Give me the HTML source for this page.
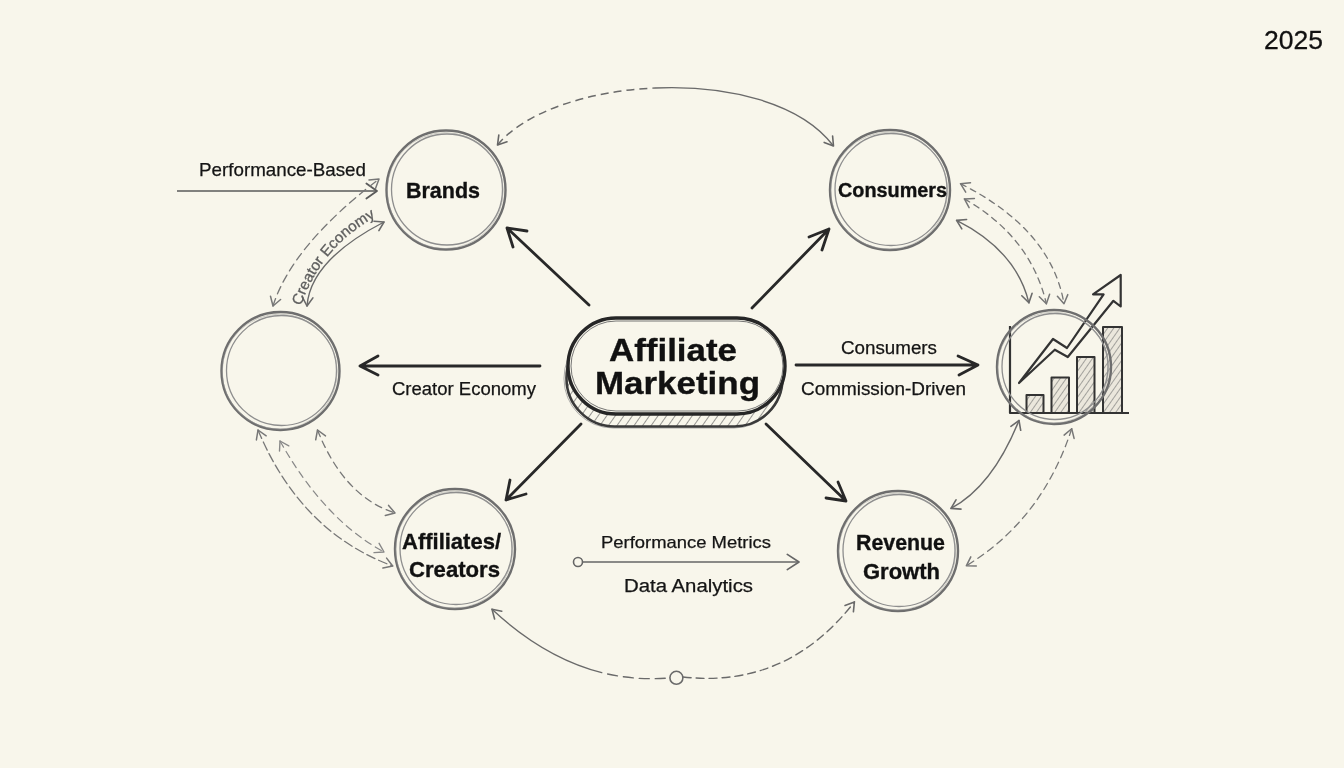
<!DOCTYPE html>
<html><head><meta charset="utf-8">
<style>
html,body{margin:0;padding:0;width:1344px;height:768px;overflow:hidden;background:#f8f6eb;}
svg{display:block;will-change:transform;}
text{font-family:"Liberation Sans",sans-serif;}
</style></head>
<body>
<svg width="1344" height="768" viewBox="0 0 1344 768">
<defs>
<pattern id="hatch" patternUnits="userSpaceOnUse" width="7" height="7" patternTransform="rotate(35)">
<rect width="7" height="7" fill="#f8f6eb"/>
<line x1="0" y1="0" x2="0" y2="7" stroke="#555" stroke-width="1.2"/>
</pattern>
<pattern id="hatch2" patternUnits="userSpaceOnUse" width="5" height="5" patternTransform="rotate(35)">
<rect width="5" height="5" fill="#ebe7dc"/>
<line x1="0" y1="0" x2="0" y2="5" stroke="#666" stroke-width="1.1"/>
</pattern>
</defs>
<rect width="1344" height="768" fill="#f8f6eb"/>
<text x="1264" y="49" font-size="26" fill="#111" stroke="#111" stroke-width="0.3" textLength="59" lengthAdjust="spacingAndGlyphs">2025</text>
<circle cx="446" cy="190" r="59.5" stroke="#6e6e6e" stroke-width="2.4" fill="none"/><circle cx="447" cy="189.5" r="55.5" stroke="#8e8e8e" stroke-width="1.3" fill="none"/><circle cx="445.2" cy="190.6" r="58.0" stroke="#9a9a9a" stroke-width="0.8" fill="none" opacity="0.6"/><circle cx="890" cy="190" r="60" stroke="#6e6e6e" stroke-width="2.4" fill="none"/><circle cx="891" cy="189.5" r="56" stroke="#8e8e8e" stroke-width="1.3" fill="none"/><circle cx="889.2" cy="190.6" r="58.5" stroke="#9a9a9a" stroke-width="0.8" fill="none" opacity="0.6"/><circle cx="280.5" cy="371" r="59" stroke="#6e6e6e" stroke-width="2.4" fill="none"/><circle cx="281.5" cy="370.5" r="55" stroke="#8e8e8e" stroke-width="1.3" fill="none"/><circle cx="279.7" cy="371.6" r="57.5" stroke="#9a9a9a" stroke-width="0.8" fill="none" opacity="0.6"/><circle cx="455" cy="549" r="60" stroke="#6e6e6e" stroke-width="2.4" fill="none"/><circle cx="456" cy="548.5" r="56" stroke="#8e8e8e" stroke-width="1.3" fill="none"/><circle cx="454.2" cy="549.6" r="58.5" stroke="#9a9a9a" stroke-width="0.8" fill="none" opacity="0.6"/><circle cx="898" cy="551" r="60" stroke="#6e6e6e" stroke-width="2.4" fill="none"/><circle cx="899" cy="550.5" r="56" stroke="#8e8e8e" stroke-width="1.3" fill="none"/><circle cx="897.2" cy="551.6" r="58.5" stroke="#9a9a9a" stroke-width="0.8" fill="none" opacity="0.6"/>
<path d="M497.5 145 C525.1 111.4 589.0 90.9 655.0 88.0" stroke="#6a6a6a" stroke-width="1.5" fill="none" stroke-dasharray="8 5"/>
<path d="M655.0 88.0 C726.5 84.9 800.5 102.3 833.5 146" stroke="#6a6a6a" stroke-width="1.4" fill="none"/>
<path d="M507.0 141.8 L497.5 145.0 L498.8 135.1" stroke="#666" stroke-width="1.6" fill="none" stroke-linecap="round" stroke-linejoin="round"/>
<path d="M832.6 136.0 L833.5 146.0 L824.2 142.4" stroke="#666" stroke-width="1.6" fill="none" stroke-linecap="round" stroke-linejoin="round"/>
<path d="M177 191 L376 191" stroke="#5a5a5a" stroke-width="1.7" fill="none"/>
<path d="M366.4 183.5 L377.0 191.0 L366.4 198.5" stroke="#5a5a5a" stroke-width="1.8" fill="none" stroke-linecap="round" stroke-linejoin="round"/>
<path d="M273.0 306.0 Q292.0 245.5 379.0 179.0" stroke="#777" stroke-width="1.3" fill="none" stroke-dasharray="8 5" stroke-linecap="round"/><path d="M280.6 299.5 L273.0 306.0 L270.5 296.3" stroke="#777" stroke-width="1.5" fill="none" stroke-linecap="round" stroke-linejoin="round"/><path d="M369.0 179.9 L379.0 179.0 L375.5 188.4" stroke="#777" stroke-width="1.5" fill="none" stroke-linecap="round" stroke-linejoin="round"/>
<path d="M307.0 306.0 Q310.5 260.0 384.0 222.0" stroke="#6a6a6a" stroke-width="1.4" fill="none" stroke-linecap="round"/><path d="M312.9 297.9 L307.0 306.0 L302.4 297.1" stroke="#6a6a6a" stroke-width="1.5999999999999999" fill="none" stroke-linecap="round" stroke-linejoin="round"/><path d="M374.0 221.2 L384.0 222.0 L378.9 230.6" stroke="#6a6a6a" stroke-width="1.5999999999999999" fill="none" stroke-linecap="round" stroke-linejoin="round"/>
<path id="cearc" d="M301 306 Q323 240 391 209" fill="none" stroke="none"/>
<text font-size="15" fill="#5e5e5e" stroke="#5e5e5e" stroke-width="0.3"><textPath href="#cearc" textLength="119" lengthAdjust="spacingAndGlyphs">Creator Economy</textPath></text>
<path d="M956.6 220.4 Q1016.2 250.4 1028.9 302.8" stroke="#6a6a6a" stroke-width="1.4" fill="none" stroke-linecap="round"/><path d="M961.8 228.9 L956.6 220.4 L966.6 219.5" stroke="#6a6a6a" stroke-width="1.5999999999999999" fill="none" stroke-linecap="round" stroke-linejoin="round"/><path d="M1032.1 293.3 L1028.9 302.8 L1021.8 295.8" stroke="#6a6a6a" stroke-width="1.5999999999999999" fill="none" stroke-linecap="round" stroke-linejoin="round"/>
<path d="M964.4 198.9 Q1030.6 236.6 1046.4 303.8" stroke="#777" stroke-width="1.3" fill="none" stroke-dasharray="6 5" stroke-linecap="round"/><path d="M969.1 207.7 L964.4 198.9 L974.4 198.5" stroke="#777" stroke-width="1.5" fill="none" stroke-linecap="round" stroke-linejoin="round"/><path d="M1049.6 294.3 L1046.4 303.8 L1039.3 296.8" stroke="#777" stroke-width="1.5" fill="none" stroke-linecap="round" stroke-linejoin="round"/>
<path d="M960.5 183.7 Q1051.3 229.1 1064.0 303.8" stroke="#777" stroke-width="1.3" fill="none" stroke-dasharray="6 5" stroke-linecap="round"/><path d="M965.7 192.2 L960.5 183.7 L970.5 182.7" stroke="#777" stroke-width="1.5" fill="none" stroke-linecap="round" stroke-linejoin="round"/><path d="M1067.8 294.6 L1064.0 303.8 L1057.4 296.3" stroke="#777" stroke-width="1.5" fill="none" stroke-linecap="round" stroke-linejoin="round"/>
<path d="M258.0 430.0 Q300.6 532.0 392.7 566.0" stroke="#777" stroke-width="1.3" fill="none" stroke-dasharray="9 4" stroke-linecap="round"/><path d="M256.4 439.9 L258.0 430.0 L266.2 435.8" stroke="#777" stroke-width="1.5" fill="none" stroke-linecap="round" stroke-linejoin="round"/><path d="M386.6 558.1 L392.7 566.0 L382.9 568.0" stroke="#777" stroke-width="1.5" fill="none" stroke-linecap="round" stroke-linejoin="round"/>
<path d="M280.0 441.0 Q324.0 519.5 384.0 552.0" stroke="#888" stroke-width="1.2" fill="none" stroke-dasharray="7 5" stroke-linecap="round"/><path d="M279.5 451.0 L280.0 441.0 L288.8 445.8" stroke="#888" stroke-width="1.4" fill="none" stroke-linecap="round" stroke-linejoin="round"/><path d="M379.1 543.3 L384.0 552.0 L374.0 552.6" stroke="#888" stroke-width="1.4" fill="none" stroke-linecap="round" stroke-linejoin="round"/>
<path d="M317.5 430.0 Q343.8 496.5 395.0 513.0" stroke="#777" stroke-width="1.3" fill="none" stroke-dasharray="7 5" stroke-linecap="round"/><path d="M315.7 439.8 L317.5 430.0 L325.5 435.9" stroke="#777" stroke-width="1.5" fill="none" stroke-linecap="round" stroke-linejoin="round"/><path d="M388.6 505.4 L395.0 513.0 L385.3 515.4" stroke="#777" stroke-width="1.5" fill="none" stroke-linecap="round" stroke-linejoin="round"/>
<path d="M1019.0 420.5 Q992.2 486.8 951.0 508.4" stroke="#6a6a6a" stroke-width="1.4" fill="none" stroke-linecap="round"/><path d="M1010.9 426.4 L1019.0 420.5 L1020.7 430.3" stroke="#6a6a6a" stroke-width="1.5999999999999999" fill="none" stroke-linecap="round" stroke-linejoin="round"/><path d="M961.0 509.1 L951.0 508.4 L956.0 499.8" stroke="#6a6a6a" stroke-width="1.5999999999999999" fill="none" stroke-linecap="round" stroke-linejoin="round"/>
<path d="M1071.7 428.7 Q1042.4 519.5 966.3 565.8" stroke="#777" stroke-width="1.3" fill="none" stroke-dasharray="7 5" stroke-linecap="round"/><path d="M1064.1 435.1 L1071.7 428.7 L1074.1 438.4" stroke="#777" stroke-width="1.5" fill="none" stroke-linecap="round" stroke-linejoin="round"/><path d="M976.3 565.9 L966.3 565.8 L970.8 556.9" stroke="#777" stroke-width="1.5" fill="none" stroke-linecap="round" stroke-linejoin="round"/>
<path d="M492.0 609.3 Q575.0 686.5 670.0 677.8" stroke="#6a6a6a" stroke-width="1.4" fill="none" stroke-dasharray="128 6 10 6 10 6 10 6 10 6 10" stroke-linecap="round"/><path d="M494.6 619.0 L492.0 609.3 L501.8 611.2" stroke="#6a6a6a" stroke-width="1.5999999999999999" fill="none" stroke-linecap="round" stroke-linejoin="round"/>
<path d="M683.0 677.0 Q787.3 688.5 854.4 601.9" stroke="#6a6a6a" stroke-width="1.4" fill="none" stroke-dasharray="8 5" stroke-linecap="round"/><path d="M845.0 605.4 L854.4 601.9 L853.4 611.8" stroke="#6a6a6a" stroke-width="1.5999999999999999" fill="none" stroke-linecap="round" stroke-linejoin="round"/>
<circle cx="676.4" cy="677.8" r="6.5" stroke="#6a6a6a" stroke-width="1.6" fill="none"/>
<circle cx="578" cy="562" r="4.5" stroke="#666" stroke-width="1.6" fill="none"/>
<path d="M583 562 L798 562" stroke="#666" stroke-width="1.6" fill="none"/>
<path d="M787.3 554.4 L799.0 562.0 L787.3 569.6" stroke="#666" stroke-width="1.7" fill="none" stroke-linecap="round" stroke-linejoin="round"/>

<g stroke="#333" fill="none" stroke-linejoin="round">
<path d="M1010 326 L1010 413 L1129 413" stroke-width="2.2"/>
<rect x="1026.5" y="395" width="17" height="18" fill="url(#hatch2)" stroke-width="2"/>
<rect x="1051.5" y="377.5" width="17.5" height="35.5" fill="url(#hatch2)" stroke-width="2"/>
<rect x="1077" y="357" width="17.5" height="56" fill="url(#hatch2)" stroke-width="2"/>
<rect x="1103" y="327" width="19" height="86" fill="url(#hatch2)" stroke-width="2"/>
<path d="M1019 383 L1053 339 L1067 348 L1103.6 294.3 L1093 294.3 L1120.7 275 L1120.7 306.5 L1113.4 300.8 L1067.8 357 L1054.8 349.7 Z" fill="none" stroke-width="2.2"/>
</g>
<circle cx="1054" cy="367" r="57" stroke="#6e6e6e" stroke-width="2.4" fill="none"/><circle cx="1055" cy="366.5" r="53" stroke="#8e8e8e" stroke-width="1.3" fill="none"/><circle cx="1053.2" cy="367.6" r="55.5" stroke="#9a9a9a" stroke-width="0.8" fill="none" opacity="0.6"/>

<g font-weight="bold" fill="#111" stroke="#111" stroke-width="0.35">
<text x="406" y="198" font-size="22" textLength="74" lengthAdjust="spacingAndGlyphs">Brands</text>
<text x="838" y="196.5" font-size="20" textLength="109" lengthAdjust="spacingAndGlyphs">Consumers</text>
<text x="402" y="549" font-size="22" textLength="99" lengthAdjust="spacingAndGlyphs">Affiliates/</text>
<text x="409" y="576.5" font-size="22" textLength="91" lengthAdjust="spacingAndGlyphs">Creators</text>
<text x="856" y="550" font-size="22" textLength="89" lengthAdjust="spacingAndGlyphs">Revenue</text>
<text x="863" y="579" font-size="22" textLength="77" lengthAdjust="spacingAndGlyphs">Growth</text>
</g>
<rect x="564" y="329" width="219" height="99" rx="49" fill="none" stroke="#999" stroke-width="0.8"/>
<rect x="566.5" y="330" width="216" height="96.5" rx="48" fill="url(#hatch)" stroke="#3a3a3a" stroke-width="2.6"/>
<rect x="568" y="318" width="217" height="96" rx="48" fill="#f8f6eb" stroke="#262626" stroke-width="3.4"/>
<rect x="571" y="321" width="212" height="90" rx="45" fill="none" stroke="#666" stroke-width="0.9"/>
<g font-weight="bold" fill="#111" stroke="#111" stroke-width="0.35">
<text x="609" y="361" font-size="32" textLength="128" lengthAdjust="spacingAndGlyphs">Affiliate</text>
<text x="595" y="394" font-size="32" textLength="165" lengthAdjust="spacingAndGlyphs">Marketing</text>
</g>
<g stroke="#282828" stroke-width="2.8" fill="none" stroke-linecap="round" stroke-linejoin="round">
<path d="M589 305 L507 228 M527 231 L507 228 L513 247"/>
<path d="M752 308 L829 229 M809 237 L829 229 L822 250"/>
<path d="M581 424 L506 500 M510 480 L506 500 L526 494"/>
<path d="M766 424 L846 501 M838 482 L846 501 L826 498"/>
<path d="M540 366 L360 366 M378 356 L360 366 L378 375"/>
<path d="M796 365 L978 365 M958 356 L978 365 L959 375"/>
</g>
<g fill="#151515" stroke="#151515" stroke-width="0.25">
<text x="199" y="176" font-size="19" textLength="167" lengthAdjust="spacingAndGlyphs">Performance-Based</text>
<text x="841" y="353.5" font-size="18" textLength="96" lengthAdjust="spacingAndGlyphs">Consumers</text>
<text x="801" y="394.5" font-size="18" textLength="165" lengthAdjust="spacingAndGlyphs">Commission-Driven</text>
<text x="392" y="394.5" font-size="18" textLength="144" lengthAdjust="spacingAndGlyphs">Creator Economy</text>
<text x="601" y="547.5" font-size="17" textLength="170" lengthAdjust="spacingAndGlyphs">Performance Metrics</text>
<text x="624" y="591.5" font-size="18" textLength="129" lengthAdjust="spacingAndGlyphs">Data Analytics</text>
</g>
</svg>
</body></html>
